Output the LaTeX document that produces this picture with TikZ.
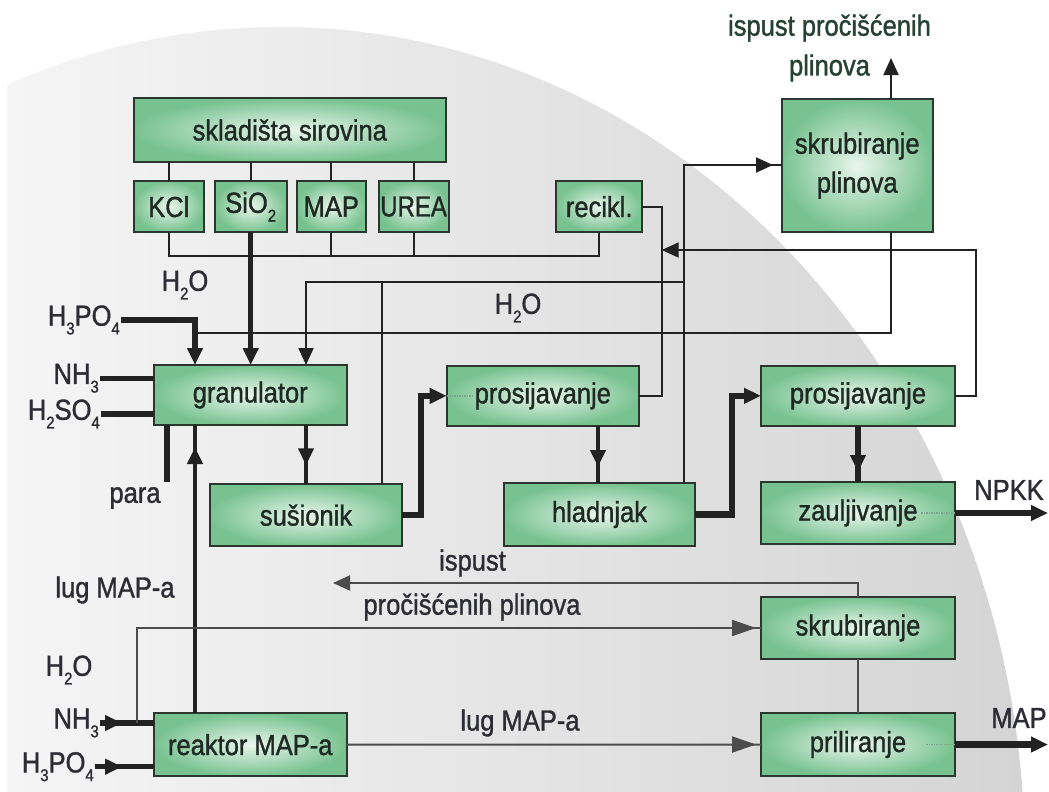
\documentclass[tikz,border=0pt]{standalone}
\usepackage{fontspec}
\setmainfont{Liberation Sans}[FakeStretch=0.88,FakeBold=1.2]
\usetikzlibrary{arrows.meta,decorations.markings}
\definecolor{bgl}{HTML}{F5F5F5}
\definecolor{bgm}{HTML}{E8E8E8}
\definecolor{bgr}{HTML}{D4D4D4}
\definecolor{boxin}{HTML}{E9F6EC}
\definecolor{boxout}{HTML}{78C290}
\definecolor{boxline}{HTML}{2A362E}
\definecolor{boxtext}{HTML}{1F2A24}
\definecolor{labtext}{HTML}{2C2C34}
\definecolor{toptext}{HTML}{264233}
\definecolor{linec}{HTML}{222222}
\definecolor{linel}{HTML}{4C4C4C}
\definecolor{dotc}{HTML}{7FA58C}
\newcommand\sbs[1]{\raisebox{-0.3em}{\fontsize{17}{17}\selectfont #1}}
\begin{document}
\begin{tikzpicture}[x=1pt,y=-1pt,
 box/.style={draw=boxline, line width=2pt, inner color=boxin, outer color=boxout,
   inner sep=0pt, outer sep=0pt, font=\fontsize{29}{39}\selectfont, text=boxtext, align=center},
 lab/.style={font=\fontsize{29}{34}\selectfont, text=labtext, inner sep=1pt},
 thinl/.style={draw=linec, line width=2pt},
 medl/.style={draw=linec, line width=4.5pt},
 thkl/.style={draw=linec, line width=6.5pt},
 tip/.style={-{Triangle[length=17pt,width=15pt]}},
 midtip/.style={postaction={decorate}, decoration={markings,
   mark=at position #1 with {\arrow{Triangle[length=17pt,width=15pt]}}}},
 lowtip/.style={postaction={decorate}, decoration={markings,
   mark=at position #1 with {\arrow{Triangle[length=24pt,width=16pt]}}}},
 dotl/.style={draw=dotc, densely dotted, line width=1.5pt}
]
\useasboundingbox (0,0) rectangle (1049,792);
\fill[white] (0,0) rectangle (1049,792);
\begin{scope}
 \clip (7,0) rectangle (1049,792);
 \clip (280,860) ellipse [x radius=745, y radius=833];
 \shade[left color=bgl, middle color=bgm, right color=bgr] (7,0) rectangle (1026,792);
\end{scope}

% boxes
\node[box, minimum width=312.5pt, minimum height=63.4pt] (skl) at (289.75,130) {skladišta sirovina};
\node[box, minimum width=70.5pt, minimum height=51.3pt] (kcl) at (168.75,206.65) {KCl};
\node[box, minimum width=72pt, minimum height=51.3pt] (sio) at (250.7,206.65) {SiO\sbs{2}};
\node[box, minimum width=69.5pt, minimum height=51.3pt] (mapb) at (331.25,206.65) {MAP};
\node[box, minimum width=70pt, minimum height=51.3pt] (urea) at (413.6,206.65) {\scalebox{0.94}[1]{UREA}};
\node[box, minimum width=85.6pt, minimum height=51.3pt] (recikl) at (599.2,206.65) {recikl.};
\node[box, minimum width=151.5pt, minimum height=133.3pt] (skrp) at (857.25,165.65) {skrubiranje\\plinova};
\node[box, minimum width=192.5pt, minimum height=60pt] (gran) at (250.25,395) {granulator};
\node[box, minimum width=192.3pt, minimum height=60.3pt] (prs1) at (542.85,395.85) {prosijavanje};
\node[box, minimum width=194pt, minimum height=60.3pt] (prs2) at (858,395.85) {prosijavanje};
\node[box, minimum width=192pt, minimum height=61.7pt] (sus) at (306,515.15) {sušionik};
\node[box, minimum width=191pt, minimum height=63pt] (hlad) at (599.5,514.5) {hladnjak};
\node[box, minimum width=194pt, minimum height=62pt] (zau) at (858,513) {zauljivanje};
\node[box, minimum width=194pt, minimum height=62pt] (skr) at (858,628) {skrubiranje};
\node[box, minimum width=194pt, minimum height=63pt] (pril) at (858,744.5) {priliranje};
\node[box, minimum width=192.5pt, minimum height=62.7pt] (reak) at (250.25,744.65) {reaktor MAP-a};

% labels
\node[lab, text=toptext] (top1) at (829.5,28) {ispust pročišćenih};
\node[lab, text=toptext] (top2) at (829.5,68) {plinova};
\node[lab] (h2oa) at (185,285) {H\sbs{2}O};
\node[lab, anchor=east] (h3po4a) at (121,320) {H\sbs{3}PO\sbs{4}};
\node[lab, anchor=east] (nh3a) at (100,378.3) {NH\sbs{3}};
\node[lab, anchor=east] (h2so4) at (101,414) {H\sbs{2}SO\sbs{4}};
\node[lab] (para) at (135,498) {para};
\node[lab] (lug1) at (115,590) {lug MAP-a};
\node[lab] (h2ob) at (69,670) {H\sbs{2}O};
\node[lab, anchor=east] (nh3b) at (100,723) {NH\sbs{3}};
\node[lab, anchor=east] (h3po4b) at (95,766.7) {H\sbs{3}PO\sbs{4}};
\node[lab] (h2oc) at (518,308) {H\sbs{2}O};
\node[lab] (isp1) at (472.5,563) {ispust};
\node[lab] (isp2) at (472,607) {pročišćenih plinova};
\node[lab] (lug2) at (520,723) {lug MAP-a};
\node[lab] (npkk) at (1009,490) {NPKK};
\node[lab] (mapo) at (1019,718) {MAP};

% coordinates
\coordinate (coll) at (0,256);
\coordinate (xa) at (195,320);
\coordinate (xs) at (891,333.3);
\coordinate (topout) at (891,58);
\coordinate (xh) at (684,165);
\coordinate (xg) at (306,281.7);
\coordinate (xsu) at (382,281.7);
\coordinate (xr) at (661.7,300);
\coordinate (xq) at (975.5,250);
\coordinate (xk1) at (421,395);
\coordinate (xk2) at (732,395);
\coordinate (xp) at (598,450);
\coordinate (eR) at (1048,0);
\coordinate (parab) at (167,482);
\coordinate (br) at (137,723);
\coordinate (isp) at (333,583);

% storage connectors
\foreach \n in {kcl,sio,mapb,urea} \draw[thinl] (\n.north |- skl.south) -- (\n.north);
\draw[thinl] (kcl.south) -- (kcl.south |- coll) -- (recikl.south |- coll) -- (recikl.south);
\draw[thinl] (mapb.south) -- (mapb.south |- coll);
\draw[thinl] (urea.south) -- (urea.south |- coll);
\draw[medl, tip] (sio.south) -- (sio.south |- gran.north);

% H3PO4 to granulator
\draw[thkl, tip] (h3po4a.east) -- (xa) -- (xa |- gran.north);

% water / gas lines
\draw[thinl] (xs |- skrp.south) -- (xs) -- (xs -| xa);
\draw[thinl, tip] (xs |- skrp.north) -- (topout);
\draw[thinl, midtip=-8.5pt] (hlad.north -| xh) -- (xh) -- (xh -| skrp.west);
\draw[thinl, tip] (xg -| xh) -- (xg) -- (xg |- gran.north);
\draw[thinl] (sus.north -| xsu) -- (xsu);
\draw[thinl] (prs1.east) -| (xr) |- (recikl.east);
\draw[thinl, tip] (prs2.east) -| (xq) -- (xq -| xr);

% main product flow
\draw[thkl, tip] (sus.east) -- (sus.east -| xk1) |- (prs1.west);
\draw[thkl, tip] (hlad.east) -- (hlad.east -| xk2) |- (prs2.west);
\draw[medl, midtip=-19pt] (gran.south -| sus.north) -- (sus.north);
\draw[medl, midtip=-16pt] (prs1.south -| xp) -- (hlad.north -| xp);
\draw[thkl, midtip=-10pt] (prs2.south) -- (zau.north);
\draw[thkl, tip] (zau.east) -- (zau.east -| eR);
\draw[thkl, tip] (pril.east) -- (pril.east -| eR);

% left inputs
\draw[medl] (nh3a.east) -- (nh3a.east -| gran.west);
\draw[thkl] (h2so4.east) -- (h2so4.east -| gran.west);
\draw[thkl] (parab |- gran.south) -- (parab);
\draw[medl, midtip=-22pt] (reak.north -| xa) -- (gran.south -| xa);

% lower part
\draw[thkl, midtip=-32pt] (nh3b.east) -- (nh3b.east -| reak.west);
\draw[thinl, draw=linel, lowtip=-5pt] (br) |- (skr.west);
\draw[medl, midtip=-32pt] (h3po4b.east) -- (h3po4b.east -| reak.west);
\draw[thinl, draw=linel, lowtip=-5pt] (reak.east) -- (pril.west);
\draw[thinl, draw=linel] (skr.south) -- (pril.north);
\draw[thinl, draw=linel, tip] (skr.north) |- (isp);

% dotted traces inside boxes
\draw[dotl] (prs1.west) -- ++(26,0);
\draw[dotl] (zau.east) -- ++(-34,0);
\draw[dotl] (pril.east) -- ++(-30,0);
\end{tikzpicture}
\end{document}
